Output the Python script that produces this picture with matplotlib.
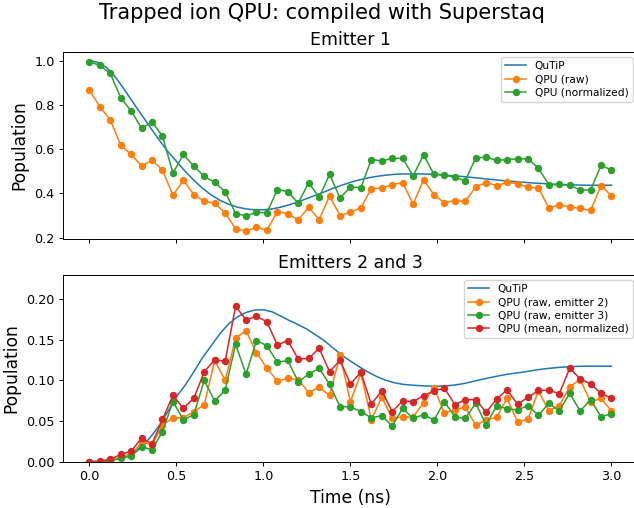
import numpy as np
import matplotlib
matplotlib.use("Agg")
import matplotlib.pyplot as plt

# ---- data ----
t_qpu = np.round(np.arange(51) * 0.06, 2)
t_sim = np.round(np.arange(61) * 0.05, 2)

e1_qutip = [1.000, 0.992, 0.968, 0.925, 0.870, 0.812, 0.755, 0.698, 0.642, 0.590,
            0.545, 0.500, 0.460, 0.423, 0.393, 0.369, 0.351, 0.338, 0.330, 0.326,
            0.326, 0.330, 0.338, 0.349, 0.362, 0.377, 0.392, 0.407, 0.423, 0.437,
            0.450, 0.461, 0.470, 0.477, 0.482, 0.486, 0.488, 0.488, 0.488, 0.487,
            0.485, 0.482, 0.479, 0.476, 0.472, 0.468, 0.464, 0.460, 0.456, 0.453,
            0.450, 0.447, 0.445, 0.442, 0.440, 0.439, 0.438, 0.437, 0.437, 0.437, 0.437]
e1_raw = [0.867, 0.792, 0.732, 0.618, 0.576, 0.524, 0.550, 0.505, 0.392, 0.459,
          0.395, 0.365, 0.356, 0.312, 0.240, 0.230, 0.247, 0.234, 0.318, 0.309,
          0.280, 0.338, 0.282, 0.388, 0.300, 0.315, 0.335, 0.421, 0.424, 0.439,
          0.449, 0.351, 0.462, 0.394, 0.358, 0.367, 0.364, 0.430, 0.449, 0.435,
          0.450, 0.444, 0.429, 0.424, 0.335, 0.347, 0.339, 0.332, 0.323, 0.435, 0.389]
e1_norm = [0.994, 0.979, 0.942, 0.832, 0.773, 0.695, 0.723, 0.659, 0.492, 0.576,
           0.523, 0.477, 0.450, 0.408, 0.309, 0.299, 0.314, 0.313, 0.417, 0.408,
           0.356, 0.449, 0.382, 0.486, 0.379, 0.429, 0.426, 0.553, 0.547, 0.558,
           0.559, 0.479, 0.574, 0.486, 0.484, 0.472, 0.458, 0.560, 0.564, 0.549,
           0.553, 0.556, 0.556, 0.514, 0.439, 0.441, 0.438, 0.415, 0.415, 0.527, 0.505]

e23_qutip = [0.000, 0.0002, 0.001, 0.003, 0.006, 0.011, 0.019, 0.030, 0.044, 0.0615,
             0.080, 0.094, 0.1105, 0.128, 0.1425, 0.1575, 0.1695, 0.178, 0.1835, 0.1865,
             0.1868, 0.1843, 0.1790, 0.1735, 0.1685, 0.1630, 0.1560, 0.1488, 0.1400, 0.1310,
             0.1238, 0.1168, 0.1104, 0.1048, 0.1004, 0.0972, 0.0952, 0.0942, 0.0935, 0.0930,
             0.0928, 0.0932, 0.0943, 0.0960, 0.0985, 0.1010, 0.1033, 0.1055, 0.1075, 0.1090,
             0.1104, 0.1122, 0.1138, 0.1150, 0.1160, 0.1167, 0.1172, 0.1174, 0.1175, 0.1175, 0.1174]
e2_raw = [0.000, 0.000, 0.001, 0.006, 0.008, 0.024, 0.021, 0.045, 0.054, 0.054,
          0.0615, 0.070, 0.1246, 0.100, 0.152, 0.161, 0.134, 0.115, 0.099, 0.1025,
          0.101, 0.085, 0.0915, 0.0816, 0.131, 0.0738, 0.109, 0.0516, 0.0792, 0.0533,
          0.055, 0.055, 0.0726, 0.091, 0.0595, 0.064, 0.0669, 0.0447, 0.0513, 0.0546,
          0.078, 0.049, 0.0523, 0.087, 0.0627, 0.069, 0.0922, 0.101, 0.0735, 0.078, 0.0623]
e3_raw = [0.000, 0.000, 0.001, 0.004, 0.007, 0.018, 0.015, 0.037, 0.074, 0.0513,
          0.058, 0.100, 0.0746, 0.088, 0.1445, 0.1075, 0.149, 0.1427, 0.1222, 0.1245,
          0.0984, 0.1075, 0.1148, 0.0952, 0.0676, 0.0676, 0.0615, 0.0541, 0.0566, 0.0439,
          0.0656, 0.0533, 0.0578, 0.0513, 0.0738, 0.055, 0.0533, 0.072, 0.0451, 0.0687,
          0.0652, 0.0636, 0.0689, 0.057, 0.0718, 0.0627, 0.0841, 0.0623, 0.0763, 0.0553, 0.059]
e23_mean = [0.000, 0.0005, 0.003, 0.009, 0.013, 0.029, 0.022, 0.052, 0.0816, 0.0657,
            0.078, 0.1105, 0.1255, 0.1234, 0.1912, 0.1744, 0.179, 0.172, 0.1435, 0.149,
            0.1263, 0.127, 0.1394, 0.1107, 0.1247, 0.0955, 0.110, 0.0706, 0.0873, 0.0615,
            0.075, 0.0738, 0.0812, 0.087, 0.0905, 0.0702, 0.0763, 0.0763, 0.0609, 0.0771,
            0.0882, 0.0708, 0.079, 0.0878, 0.0878, 0.0838, 0.1148, 0.102, 0.0955, 0.0841, 0.078]

# ---- figure ----
W, H = 634, 508
fig = plt.figure(figsize=(W / 100, H / 100), dpi=100)

left = 63.3 / W
width = (637.6 - 63.3) / W
ax1 = fig.add_axes([left, 1 - 239 / H, width, 187 / H])
ax2 = fig.add_axes([left, 1 - 461.7 / H, width, 186.7 / H], sharex=ax1)

lw = 1.1
ms = 4.3
tick_fs = 9.2
lab_fs = 12.3
title_fs = 12.5
leg_fs = 7.7

ax1.plot(t_sim, e1_qutip, color='#1f77b4', lw=lw, label='QuTiP')
ax1.plot(t_qpu, e1_raw, color='#ff7f0e', lw=lw, marker='o', ms=ms, label='QPU (raw)')
ax1.plot(t_qpu, e1_norm, color='#2ca02c', lw=lw, marker='o', ms=ms, label='QPU (normalized)')
ax1.set_ylim(0.194, 1.039)
ax1.set_yticks([0.2, 0.4, 0.6, 0.8, 1.0])
ax1.set_title('Emitter 1', fontsize=title_fs, pad=5)
ax1.set_ylabel('Population', fontsize=lab_fs)
ax1.tick_params(labelbottom=False)

ax2.plot(t_sim, e23_qutip, color='#1f77b4', lw=lw, label='QuTiP')
ax2.plot(t_qpu, e2_raw, color='#ff7f0e', lw=lw, marker='o', ms=ms, label='QPU (raw, emitter 2)')
ax2.plot(t_qpu, e3_raw, color='#2ca02c', lw=lw, marker='o', ms=ms, label='QPU (raw, emitter 3)')
ax2.plot(t_qpu, e23_mean, color='#d62728', lw=lw, marker='o', ms=ms, label='QPU (mean, normalized)')
ax2.set_ylim(0, 0.2296)
ax2.set_yticks([0.0, 0.05, 0.10, 0.15, 0.20])
ax2.set_yticklabels(['0.00', '0.05', '0.10', '0.15', '0.20'])
ax2.set_title('Emitters 2 and 3', fontsize=title_fs, pad=5)
ax2.set_ylabel('Population', fontsize=lab_fs)
ax2.set_xlabel('Time (ns)', fontsize=lab_fs)

ax1.set_xlim(-0.15, 3.15)
ax2.set_xticks([0.0, 0.5, 1.0, 1.5, 2.0, 2.5, 3.0])

for ax in (ax1, ax2):
    ax.tick_params(labelsize=tick_fs, length=2.8, width=0.7)
    for s in ax.spines.values():
        s.set_linewidth(0.7)
    ax.legend(loc='upper right', fontsize=leg_fs, labelspacing=0.3,
              borderaxespad=0.45, framealpha=0.8)

fig.suptitle('Trapped ion QPU: compiled with Superstaq', fontsize=15, x=321.5 / W, y=1 - 3 / H, va='top')

fig.savefig('out.png', dpi=100)
